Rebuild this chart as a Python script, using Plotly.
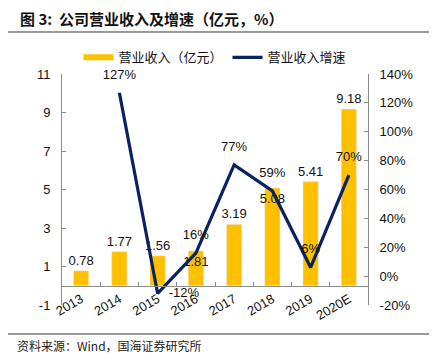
import plotly.graph_objects as go

years = ["2013", "2014", "2015", "2016", "2017", "2018", "2019", "2020E"]
revenue = [0.78, 1.77, 1.56, 1.81, 3.19, 5.08, 5.41, 9.18]
growth = [None, 127, -12, 16, 77, 59, 6, 70]
rev_labels = ["0.78", "1.77", "1.56", "1.81", "3.19", "5.08", "5.41", "9.18"]
growth_labels = ["", "127%", "-12%", "16%", "77%", "59%", "6%", "70%"]
bar_pos = ["outside", "outside", "outside", "inside", "outside", "inside", "outside", "outside"]
line_pos = ["top center", "top center", "middle right", "top center", "top center",
            "top center", "top center", "top center"]
left_ticks = [-1, 1, 3, 5, 7, 9, 11]
left_ticktext = ["-1", "1", "3", "5", "7", "9", "11"]
right_ticks = [-20, 0, 20, 40, 60, 80, 100, 120, 140]
right_ticktext = ["-20%", "0%", "20%", "40%", "60%", "80%", "100%", "120%", "140%"]

GOLD = "#FFC000"
NAVY = "#0A2263"
FONT = "Liberation Sans, Arial, Noto Sans CJK SC, sans-serif"
CJK = "Noto Sans CJK SC, sans-serif"

fig = go.Figure()
fig.add_trace(go.Bar(
    x=years, y=revenue, width=0.4, marker_color=GOLD, showlegend=False,
    text=rev_labels, textposition=bar_pos, insidetextanchor="end",
    textangle=0, constraintext="none", cliponaxis=False,
    textfont=dict(family=FONT, size=13, color="#111"),
    insidetextfont=dict(family=FONT, size=13, color="#111"),
    outsidetextfont=dict(family=FONT, size=13, color="#111"),
    hoverinfo="skip",
))
# legend proxy for the bars (wide swatch)
fig.add_trace(go.Scatter(
    x=[None], y=[None], mode="lines", line=dict(color=GOLD, width=6),
    name="营业收入（亿元）",
))
fig.add_trace(go.Scatter(
    x=years, y=growth, yaxis="y2", mode="lines",
    line=dict(color=NAVY, width=3.2), name="营业收入增速",
))
# growth data labels
fig.add_trace(go.Scatter(
    x=years, y=growth, yaxis="y2", mode="markers+text", showlegend=False,
    marker=dict(size=16, opacity=0), hoverinfo="skip",
    text=growth_labels, textposition=line_pos, cliponaxis=False,
    textfont=dict(family=FONT, size=13, color="#111"),
))

axis_common = dict(showline=True, linecolor="#8c8c8c", linewidth=1,
                   ticks="inside", ticklen=4, tickcolor="#8c8c8c",
                   showgrid=False, zeroline=False, automargin=False,
                   tickfont=dict(family=FONT, size=13, color="#111"))

# page body has an 8px default margin: the figure is sized to fit the window
fig.update_layout(
    width=429, height=354,
    margin=dict(l=54, r=69, t=66, b=57, autoexpand=False),
    paper_bgcolor="white", plot_bgcolor="white",
    xaxis=dict(type="category", anchor="free", position=1/12,
               tickson="boundaries", tickangle=-30, range=[-0.5, 7.5],
               **axis_common),
    yaxis=dict(range=[-1, 11], tickvals=left_ticks, ticktext=left_ticktext,
               ticklabelstandoff=8, **axis_common),
    yaxis2=dict(range=[-20, 140], tickvals=right_ticks, ticktext=right_ticktext,
                overlaying="y", side="right", ticklabelstandoff=8,
                **axis_common),
    legend=dict(orientation="h", x=0.5, xanchor="center", y=1.072,
                yanchor="middle", font=dict(family=CJK, size=13, color="#111"),
                bgcolor="rgba(0,0,0,0)", itemwidth=30, tracegroupgap=0),
    font=dict(family=FONT),
    shapes=[
        dict(type="line", xref="paper", yref="paper", x0=-0.177, x1=1.23,
             y0=1.182, y1=1.182, line=dict(color="#777", width=1.5)),
        dict(type="line", xref="paper", yref="paper", x0=-0.177, x1=1.23,
             y0=-0.125, y1=-0.125, line=dict(color="#777", width=1.5)),
    ],
    annotations=[
        dict(text="<b>图 3:  公司营业收入及增速（亿元，%）</b>", xref="paper", yref="paper",
             x=-0.144, y=1.242, xanchor="left", yanchor="middle", showarrow=False,
             font=dict(family=CJK, size=15, color="#111")),
        dict(text="资料来源：Wind，国海证券研究所", xref="paper", yref="paper",
             x=-0.155, y=-0.175, xanchor="left", yanchor="middle", showarrow=False,
             font=dict(family=CJK, size=12, color="#222")),
    ],
)

fig.write_html("out.html")
